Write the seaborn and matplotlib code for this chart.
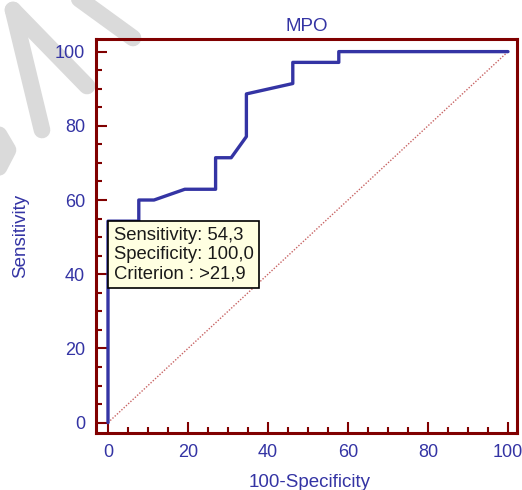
import matplotlib
matplotlib.use('Agg')
import matplotlib.pyplot as plt
import numpy as np
import pandas as pd
import seaborn as sns
from matplotlib.lines import Line2D
from matplotlib.ticker import MultipleLocator

# ROC curve of MPO
fpr = [0, 0, 7.7, 7.7, 11.5, 19.2, 26.9, 26.9, 30.8, 34.6, 34.6, 46.2, 46.2, 57.7, 57.7, 100]
tpr = [0, 54.3, 54.3, 60.0, 60.0, 62.9, 62.9, 71.4, 71.4, 77.1, 88.6, 91.4, 97.1, 97.1, 100, 100]
diag_x = [0, 100]
diag_y = [0, 100]
ticks = [0, 20, 40, 60, 80, 100]
box_text = 'Sensitivity: 54,3\nSpecificity: 100,0\nCriterion : >21,9'
box_xy = (0, 54.3)

sns.set_theme(style='white')
plt.rcParams['font.family'] = ['Liberation Sans', 'DejaVu Sans']

blue = '#3434a4'
darkred = '#800000'

roc = pd.DataFrame({'fpr': fpr, 'tpr': tpr})
diag = pd.DataFrame({'x': diag_x, 'y': diag_y})

W, H = 522, 490
fig = plt.figure(figsize=(W / 100, H / 100), dpi=100)

# faint watermark strokes in the top-left corner (pixel coords)
strokes = [
    [(60, -15), (133, 38)],
    [(13, 10), (42, 130)],
    [(13, 10), (87, 86)],
    [(-5, 128), (8, 150), (-5, 175)],
]
for s in strokes:
    xs = [p[0] / W for p in s]
    ys = [1 - p[1] / H for p in s]
    fig.add_artist(Line2D(xs, ys, transform=fig.transFigure, color='#dadada',
                          lw=12, solid_capstyle='round', solid_joinstyle='round', zorder=0))

ax = fig.add_axes([0.1839, 0.1163, 0.8065, 0.8041])
ax.patch.set_alpha(0)

sns.lineplot(data=diag, x='x', y='y', ax=ax, color='#c86464', lw=1.0,
             linestyle=(0, (1, 1.2)), estimator=None)
sns.lineplot(data=roc, x='fpr', y='tpr', ax=ax, color=blue, lw=2.4,
             sort=False, estimator=None)

ax.set_xlim(-3, 102.25)
ax.set_ylim(-2.8, 103.4)
ax.set_xticks(ticks)
ax.set_yticks(ticks)
ax.xaxis.set_minor_locator(MultipleLocator(5))
ax.yaxis.set_minor_locator(MultipleLocator(5))
ax.tick_params(which='both', direction='in', colors=darkred, labelcolor=blue,
               labelsize=13, pad=8, bottom=True, left=True, top=False, right=False)
ax.tick_params(which='major', length=8, width=1.5)
ax.tick_params(which='minor', length=4.5, width=1.5)
for sp in ax.spines.values():
    sp.set_color(darkred)
    sp.set_linewidth(2.2)

ax.set_title('MPO', color=blue, fontsize=13.5, pad=6)
ax.set_xlabel('100-Specificity', color=blue, fontsize=13.5)
ax.set_ylabel('Sensitivity', color=blue, fontsize=13.5)
ax.xaxis.set_label_coords(0.508, -0.105)
ax.yaxis.set_label_coords(-0.159, 0.5)

ax.annotate(box_text, xy=box_xy, xytext=(4.0, -4.0), textcoords='offset points',
            ha='left', va='top', fontsize=13.3, color='#1a1a1a', linespacing=1.18,
            bbox=dict(boxstyle='square,pad=0.32', fc='#ffffe1', ec='black', lw=1.2),
            zorder=5)

fig.savefig('out.png', dpi=100)
